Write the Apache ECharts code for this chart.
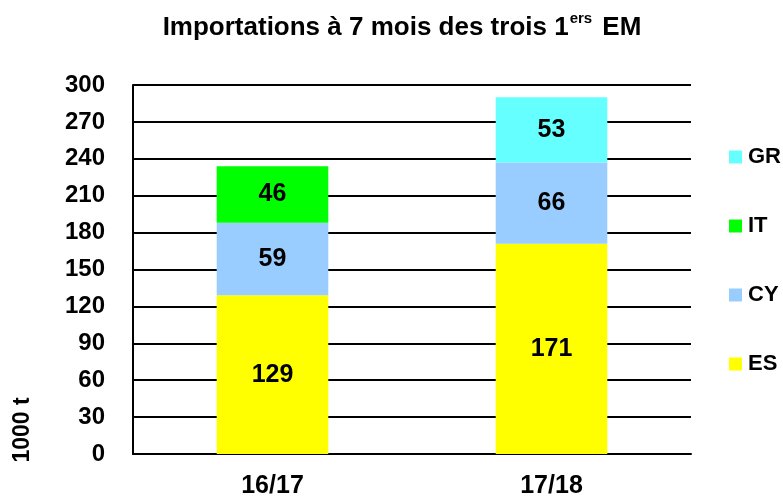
<!DOCTYPE html>
<html><head><meta charset="utf-8">
<script src="https://cdn.jsdelivr.net/npm/echarts@6/dist/echarts.min.js"></script>
<style>html,body{margin:0;padding:0;background:#fff}#c{width:783px;height:499px}</style>
</head><body><div id="c"></div>
<script>
const categories = ['16/17', '17/18'];
const ES = [129, 171];
const CY = [59, 66];
const IT = [46, '-'];
const GR = ['-', 53];
const yTicks = {min: 0, max: 300, interval: 30};

const font = 'Liberation Sans, Arial, sans-serif';
const chart = echarts.init(document.getElementById('c'));
function s(name, data, color) {
  return {
    name, type: 'bar', stack: 'a', data, barWidth: '40%',
    itemStyle: {color},
    label: {show: true, position: 'inside', color: '#000', fontWeight: 'bold', fontSize: 25, fontFamily: font},
    emphasis: {disabled: true}
  };
}
chart.setOption({
  animation: false,
  title: {
    text: '{m|Importations à 7 mois des trois 1}{s|ers}{m| EM}',
    left: 397, top: 6, textAlign: 'center',
    textStyle: {
      rich: {
        m: {fontFamily: font, fontWeight: 'bold', fontSize: 26, color: '#000', verticalAlign: 'bottom', lineHeight: 30},
        s: {fontFamily: font, fontWeight: 'bold', fontSize: 15, color: '#000', verticalAlign: 'top', lineHeight: 30, padding: [0, 3, 12, 1]}
      }
    }
  },
  legend: {
    orient: 'vertical', left: 729, top: 146, padding: 0,
    data: ['GR', 'IT', 'CY', 'ES'],
    icon: 'rect', itemWidth: 13, itemHeight: 13, itemGap: 47,
    textStyle: {fontFamily: font, fontWeight: 'bold', fontSize: 22, lineHeight: 22, color: '#000', padding: [0, 0, 0, 1]},
    selectedMode: false
  },
  grid: {left: 133, right: 92, top: 85, bottom: 43},
  xAxis: {
    type: 'category', data: categories,
    axisLine: {show: true, lineStyle: {color: '#000', width: 2}},
    axisTick: {show: false},
    axisLabel: {fontFamily: font, fontWeight: 'bold', fontSize: 25, color: '#000', margin: 20}
  },
  yAxis: {
    type: 'value', min: yTicks.min, max: yTicks.max, interval: yTicks.interval,
    axisLine: {show: true, lineStyle: {color: '#000', width: 2}},
    axisTick: {show: false},
    splitLine: {lineStyle: {color: '#000', width: 2}},
    axisLabel: {fontFamily: font, fontWeight: 'bold', fontSize: 24, color: '#000', margin: 28}
  },
  graphic: [{
    type: 'text', x: 23, y: 430, rotation: Math.PI / 2,
    style: {text: '1000 t', fontFamily: font, fontWeight: 'bold', fontSize: 23, fill: '#000', align: 'center', verticalAlign: 'middle'}
  }],
  series: [
    s('ES', ES, '#ffff00'),
    s('CY', CY, '#99ccff'),
    s('IT', IT, '#00ff00'),
    s('GR', GR, '#66ffff')
  ]
});
</script></body></html>
